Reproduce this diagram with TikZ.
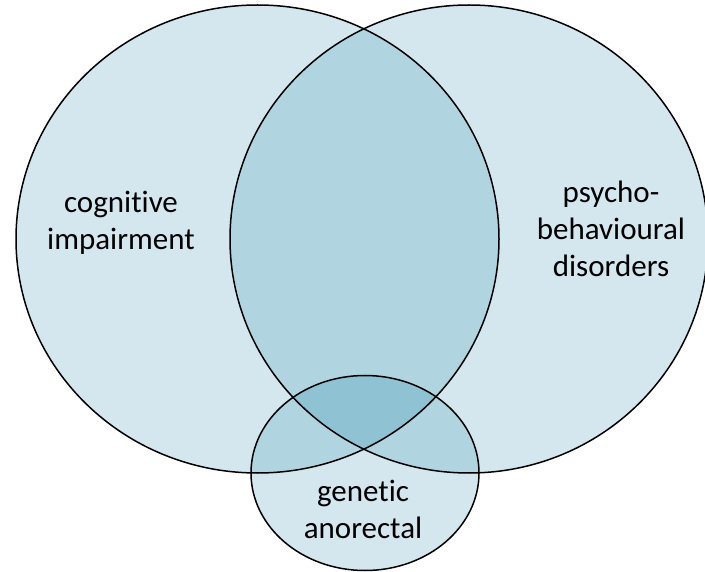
\documentclass[tikz,border=0pt]{standalone}
\usepackage{fontspec}
\setmainfont{Carlito}[Ligatures={NoCommon,NoRare,NoContextual}]
\definecolor{one}{HTML}{D4E7EE}
\definecolor{two}{HTML}{B0D4E0}
\definecolor{three}{HTML}{8FC3D3}
\begin{document}
\begin{tikzpicture}[x=1pt,y=-1pt,
  outline/.style={draw=black,line width=1.5pt},
  lbl/.style={align=center,font=\fontsize{31}{37}\selectfont,text=black,inner sep=0pt}]
\useasboundingbox (0,0) rectangle (705,572);
\clip (0,0) rectangle (705,572);
\def\ellA{(257.5,239) ellipse [x radius=241.5pt, y radius=234pt]}
\def\ellB{(469,239) ellipse [x radius=239pt, y radius=234pt]}
\def\ellC{(365,473) ellipse [x radius=114pt, y radius=97.5pt]}
\fill[one] \ellA;
\fill[one] \ellB;
\fill[one] \ellC;
\begin{scope}\clip \ellA; \fill[two] \ellB; \fill[two] \ellC; \end{scope}
\begin{scope}\clip \ellB; \fill[two] \ellC; \end{scope}
\begin{scope}\clip \ellA; \clip \ellB; \fill[three] \ellC; \end{scope}
\draw[outline] \ellA;
\draw[outline] \ellB;
\draw[outline] \ellC;
\node[lbl] (cog) at (121,223) {cognitive\\impairment};
\node[lbl] (psy) at (611,229) {psycho-\\behavioural\\disorders};
\node[lbl] (gen) at (363,509) {genetic\\anorectal};
\end{tikzpicture}
\end{document}
